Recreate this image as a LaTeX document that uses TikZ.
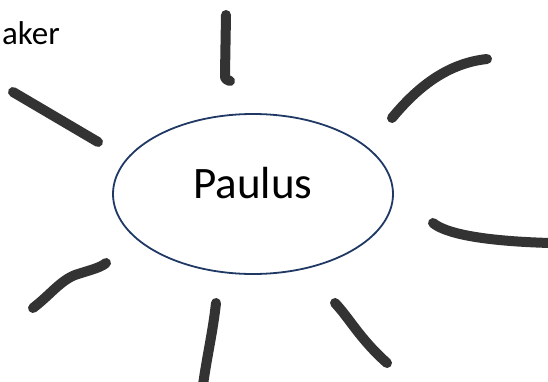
\documentclass[tikz,border=0pt]{standalone}
\usepackage{fontspec}
\setmainfont{Carlito}
\usetikzlibrary{shapes.geometric}
\definecolor{tratto}{HTML}{333333}
\definecolor{bordo}{HTML}{1F3864}
\begin{document}
\begin{tikzpicture}[x=1pt, y=1pt,
    raggio/.style={draw=tratto, line width=10pt, line cap=round, line join=round},
    bolla/.style={draw=bordo, line width=1.8pt, ellipse, minimum width=280, minimum height=160, inner sep=0pt}]
        \useasboundingbox (0,0) rectangle (548,381);

        % Ellisse centrale e testi
        \node[bolla] (paulus) at (253,187) {};
        \node[anchor=base, inner sep=0pt, font=\fontsize{45}{54}\selectfont] (nome) at (253,183) {Paulus};
        \node[anchor=base east, inner sep=0pt, font=\fontsize{33}{40}\selectfont] (parola) at (60,336) {aker};

        % Disegno dei raggi a mano libera
        \draw[raggio] (226,366) -- (225,307) .. controls (225,302) .. (230,300);
        \draw[raggio] (13,289) -- (98,239);
        \draw[raggio] (392,263) .. controls (420,297) and (450,318) .. (487,322);
        \draw[raggio] (433,158) .. controls (445,148) and (480,140) .. (550,138);
        \draw[raggio] (33,73) .. controls (50,86) and (60,100) .. (75,106) .. controls (90,111) and (100,113) .. (106,118);
        \draw[raggio] (216,78) .. controls (213,50) and (207,25) .. (203,-4);
        \draw[raggio] (335,78) .. controls (350,62) and (360,42) .. (387,18);
      \end{tikzpicture}
\end{document}
